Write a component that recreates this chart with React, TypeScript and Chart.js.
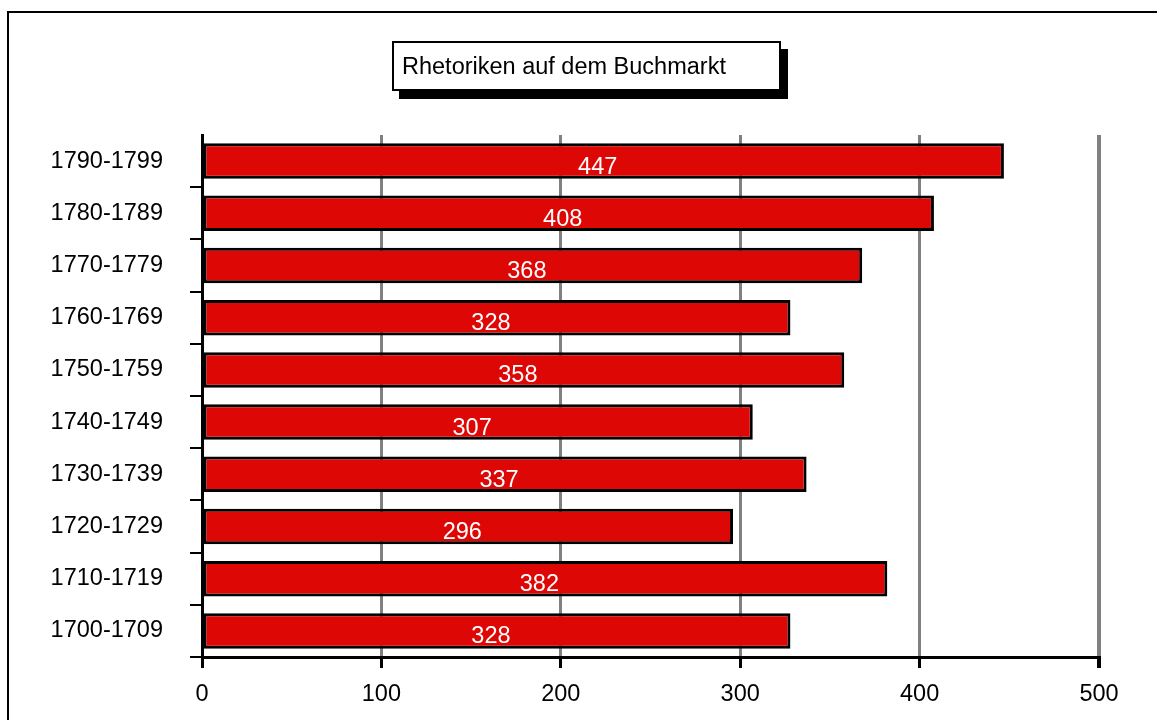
import React, { useEffect, useRef } from "react";
import { Chart, registerables } from "chart.js";

Chart.register(...registerables);

const categories = [
  "1790-1799",
  "1780-1789",
  "1770-1779",
  "1760-1769",
  "1750-1759",
  "1740-1749",
  "1730-1739",
  "1720-1729",
  "1710-1719",
  "1700-1709",
];
const values = [447, 408, 368, 328, 358, 307, 337, 296, 382, 328];
const xTicks = [0, 100, 200, 300, 400, 500];
const titleText = "Rhetoriken auf dem Buchmarkt";

const FONT = "'Liberation Sans', Arial, sans-serif";
const FS = 23.5;

const decorPlugin = {
  id: "decor",
  beforeDraw(chart: any) {
    const ctx = chart.ctx;
    ctx.save();
    ctx.fillStyle = "#ffffff";
    ctx.fillRect(0, 0, chart.width, chart.height);
    // outer frame
    ctx.strokeStyle = "#000";
    ctx.lineWidth = 2;
    ctx.strokeRect(8, 12, 1300, 900);
    // title box with shadow
    ctx.fillStyle = "#000";
    ctx.fillRect(399, 49, 389, 50);
    ctx.fillStyle = "#fff";
    ctx.fillRect(392, 41, 389, 50);
    ctx.strokeStyle = "#000";
    ctx.lineWidth = 2;
    ctx.strokeRect(393, 42, 387, 48);
    ctx.fillStyle = "#000";
    ctx.font = `${FS}px ${FONT}`;
    ctx.textAlign = "left";
    ctx.textBaseline = "alphabetic";
    ctx.fillText(titleText, 402, 74);
    ctx.restore();
  },
  afterDatasetsDraw(chart: any) {
    const ctx = chart.ctx;
    const meta = chart.getDatasetMeta(0);
    ctx.save();
    ctx.fillStyle = "#fff";
    ctx.font = `${FS}px ${FONT}`;
    ctx.textAlign = "center";
    ctx.textBaseline = "middle";
    meta.data.forEach((bar: any, i: number) => {
      const cx = (bar.base + bar.x) / 2 - 6;
      ctx.fillText(String(values[i]), cx, bar.y + 6);
    });
    ctx.restore();
  },
};

export default function App() {
  const ref = useRef<HTMLCanvasElement>(null);
  useEffect(() => {
    if (!ref.current) return;
    const chart = new Chart(ref.current, {
      type: "bar",
      data: {
        labels: categories,
        datasets: [
          {
            data: values,
            backgroundColor: "#DD0806",
            borderColor: "#000",
            borderWidth: 3,
            borderSkipped: false,
            barPercentage: 0.68,
            categoryPercentage: 1,
          },
        ],
      },
      options: {
        indexAxis: "y",
        animation: false,
        responsive: false,
        maintainAspectRatio: false,
        layout: { padding: { left: 0, right: 58, top: 135, bottom: 0 } },
        plugins: {
          legend: { display: false },
          title: { display: false },
          tooltip: { enabled: false },
        },
        scales: {
          x: {
            min: 0,
            max: 500,
            afterBuildTicks: (scale: any) => {
              scale.ticks = xTicks.map((v) => ({ value: v }));
            },
            afterFit: (scale: any) => {
              scale.height = 63;
            },
            grid: {
              color: "#808080",
              tickColor: "#000",
              lineWidth: (c: any) => (c.tick && c.tick.value === 500 ? 4 : 3),
              tickLength: 11,
              drawOnChartArea: true,
            },
            border: { color: "#000", width: 3 },
            ticks: {
              color: "#000",
              padding: 12,
              font: { family: FONT, size: FS },
              maxRotation: 0,
            },
          },
          y: {
            afterFit: (scale: any) => {
              scale.width = 202;
            },
            grid: {
              offset: true,
              drawOnChartArea: false,
              tickLength: 12,
              lineWidth: 2,
              color: (c: any) => (c.index === 0 ? "rgba(0,0,0,0)" : "#000"),
            },
            border: { color: "#000", width: 3 },
            ticks: {
              color: "#000",
              padding: 27,
              font: { family: FONT, size: FS },
            },
          },
        },
      },
      plugins: [decorPlugin],
    });
    return () => chart.destroy();
  }, []);
  return (
    <canvas
      ref={ref}
      width={1157}
      height={720}
      style={{ position: "absolute", left: 0, top: 0, width: 1157, height: 720 }}
    />
  );
}
